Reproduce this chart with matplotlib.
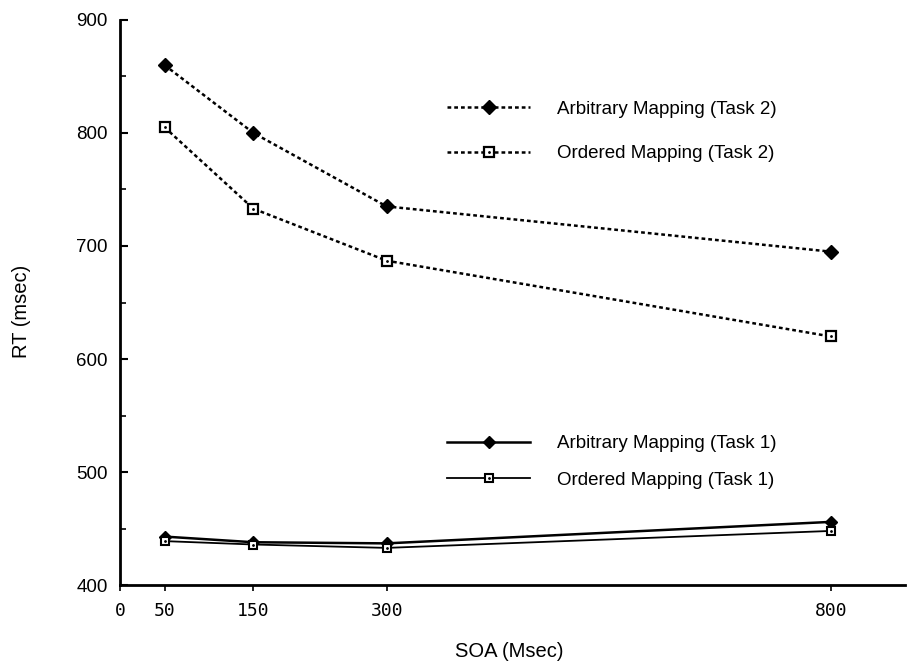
import numpy as np
from matplotlib import pyplot as plt
from matplotlib.lines import Line2D
from matplotlib.ticker import MultipleLocator

plt.rcParams['font.family'] = ['Liberation Sans', 'DejaVu Sans']

#data
soa = [50, 150, 300, 800]
arb_task2 = [860, 800, 735, 695]
ord_task2 = [805, 733, 687, 620]
arb_task1 = [443, 438, 437, 456]
ord_task1 = [439, 436, 433, 448]

xticks = [0, 50, 150, 300, 800]

fig = plt.figure(figsize=(9.1, 6.62), dpi=100)
ax = fig.add_axes([0.132, 0.116, 0.863, 0.854])

dash = (0, (1.5, 1.2))
# task 2 (dashed)
ax.plot(soa, arb_task2, color='black', lw=1.8, linestyle=dash, marker='D', ms=7.5, mfc='black', mec='black')
ax.plot(soa, ord_task2, color='black', lw=1.8, linestyle=dash, marker='s', ms=7, mfc='white', mec='black', mew=1.6)
ax.plot(soa, ord_task2, linestyle='none', marker='.', ms=2, color='black')
# task 1 (solid)
ax.plot(soa, arb_task1, color='black', lw=1.8, marker='D', ms=6, mfc='black', mec='black')
ax.plot(soa, ord_task1, color='black', lw=1.3, marker='s', ms=6, mfc='white', mec='black', mew=1.5)
ax.plot(soa, ord_task1, linestyle='none', marker='.', ms=2, color='black')

ax.set_xlim(0, 884)
ax.set_ylim(400, 900)
ax.set_xticks(xticks)
ax.set_xticklabels([str(v) for v in xticks])
ax.yaxis.set_major_locator(MultipleLocator(100))
ax.yaxis.set_minor_locator(MultipleLocator(50))
ax.tick_params(axis='y', which='major', direction='in', length=6, width=1.5, labelsize=13.5, pad=9)
ax.tick_params(axis='y', which='minor', direction='in', length=4, width=1.2)
ax.tick_params(axis='x', direction='out', length=4, width=1.2, labelsize=13, pad=8)
for lab in ax.get_xticklabels():
    lab.set_fontfamily('DejaVu Sans Mono')

ax.spines['top'].set_visible(False)
ax.spines['right'].set_visible(False)
ax.spines['left'].set_linewidth(2)
ax.spines['bottom'].set_linewidth(2)

ax.set_ylabel('RT (msec)', fontsize=14.5, va='center')
ax.yaxis.set_label_coords(-0.125, 0.485)
ax.set_xlabel('SOA (Msec)', fontsize=14.5, va='center')
ax.xaxis.set_label_coords(0.495, -0.117)

# legends
dot = Line2D([], [], linestyle='none', marker='.', ms=2, color='black')
h_a2 = Line2D([], [], color='black', lw=1.8, linestyle=dash, marker='D', ms=7.5, mfc='black')
h_o2 = Line2D([], [], color='black', lw=1.8, linestyle=dash, marker='s', ms=7, mfc='white', mew=1.6)
h_a1 = Line2D([], [], color='black', lw=1.8, marker='D', ms=6, mfc='black')
h_o1 = Line2D([], [], color='black', lw=1.3, marker='s', ms=6, mfc='white', mew=1.5)

leg2 = ax.legend([h_a2, (h_o2, dot)], ['Arbitrary Mapping (Task 2)', 'Ordered Mapping (Task 2)'],
                 loc='upper left', bbox_to_anchor=(0.4166, 0.857), frameon=False, fontsize=13.5,
                 borderpad=0, borderaxespad=0,
                 handlelength=4.4, handletextpad=1.45, labelspacing=1.46, numpoints=1)
ax.add_artist(leg2)
ax.legend([h_a1, (h_o1, dot)], ['Arbitrary Mapping (Task 1)', 'Ordered Mapping (Task 1)'],
          loc='upper left', bbox_to_anchor=(0.4166, 0.2656), frameon=False, fontsize=13.5,
          borderpad=0, borderaxespad=0,
          handlelength=4.4, handletextpad=1.45, labelspacing=1.03, numpoints=1)

plt.savefig('out.png', dpi=100)
